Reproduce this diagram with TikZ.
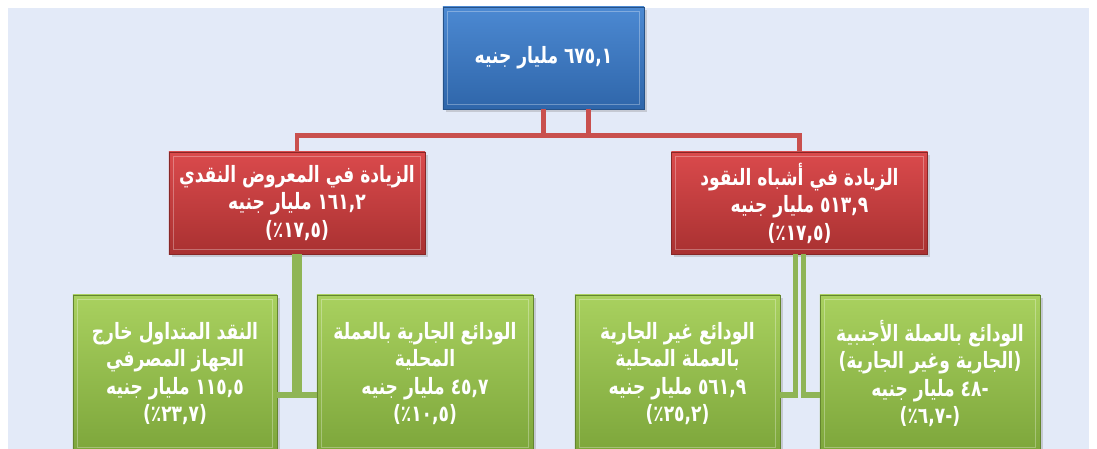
\documentclass[tikz,border=0pt]{standalone}
\usepackage{fontspec}
\newfontfamily\arabicfont[Script=Arabic, FakeStretch=0.76]{DejaVu Sans}
\TeXXeTstate=1
\usetikzlibrary{shadows}
\definecolor{panelbg}{HTML}{E3EAF8}
\definecolor{bluetop}{HTML}{4C89D2}
\definecolor{bluebot}{HTML}{2F66AA}
\definecolor{redtop}{HTML}{DA4A4C}
\definecolor{redbot}{HTML}{A93131}
\definecolor{greentop}{HTML}{A9D15F}
\definecolor{greenbot}{HTML}{7DA63B}
\definecolor{redline}{HTML}{C9504E}
\definecolor{greenline}{HTML}{8FB556}
\newcommand{\ar}[1]{\beginR #1\endR}
\tikzset{
  box/.style={text=white, align=center, inner sep=1pt,
    font=\arabicfont\bfseries\fontsize{16}{19.5}\selectfont,
    drop shadow={shadow xshift=2pt, shadow yshift=-2pt, opacity=0.3},
    path picture={\draw[white, opacity=0.3, line width=0.8pt]
      ([shift={(3pt,-3pt)}]path picture bounding box.north west) rectangle
      ([shift={(-3pt,3pt)}]path picture bounding box.south east);}},
  totalbox/.style={box, draw=bluebot!80!black, top color=bluetop, bottom color=bluebot,
    minimum width=5.03cm, minimum height=2.55cm},
  groupbox/.style={box, draw=redbot!80!black, top color=redtop, bottom color=redbot,
    minimum width=6.4cm, minimum height=2.55cm},
  itembox/.style={box, draw=greenbot!80!black, top color=greentop, bottom color=greenbot,
    minimum height=3.93cm},
  redlink/.style={draw=redline, line width=3.5pt},
  greenlink/.style={draw=greenline, line width=4pt},
}
\begin{document}
\begin{tikzpicture}[x=0.025cm, y=-0.025cm]
\useasboundingbox (0,0) rectangle (1097,448);
\fill[panelbg] (8,8) rectangle (1089,470);

\node[totalbox] (total) at (543.5,58) {\ar{٦٧٥,١ مليار جنيه}};
\node[groupbox] (money) at (297,203)
  {\ar{الزيادة في المعروض النقدي}\\\ar{١٦١,٢ مليار جنيه}\\\ar{(١٧,٥٪)}};
\node[groupbox] (quasi) at (799.5,203)
  {\ar{الزيادة في أشباه النقود}\\\ar{٥١٣,٩ مليار جنيه}\\\ar{(١٧,٥٪)}};

\node[itembox, minimum width=5.1cm] (cash) at (175,373.5)
  {\ar{النقد المتداول خارج}\\\ar{الجهاز المصرفي}\\\ar{١١٥,٥ مليار جنيه}\\\ar{(٢٣,٧٪)}};
\node[itembox, minimum width=5.4cm] (demand) at (425,373.5)
  {\ar{الودائع الجارية بالعملة}\\\ar{المحلية}\\\ar{٤٥,٧ مليار جنيه}\\\ar{(١٠,٥٪)}};
\node[itembox, minimum width=5.13cm] (time) at (677.5,373.5)
  {\ar{الودائع غير الجارية}\\\ar{بالعملة المحلية}\\\ar{٥٦١,٩ مليار جنيه}\\\ar{(٢٥,٢٪)}};
\node[itembox, minimum width=5.5cm] (foreign) at (930,373.5)
  {\ar{الودائع بالعملة الأجنبية}\\\ar{(الجارية وغير الجارية)}\\\ar{-٤٨ مليار جنيه}\\\ar{(-٦,٧٪)}};

\draw[redlink] ([xshift=1.125cm]total.south) -- ++(0,26) -| (money.north);
\draw[redlink] (total.south) -- ++(0,26) -| (quasi.north);

\draw[greenlink] ([xshift=-0.06cm]money.south) |- ([yshift=-0.54cm]cash.east);
\draw[greenlink] ([xshift=0.06cm]money.south) |- ([yshift=-0.54cm]demand.west);
\draw[greenlink] ([xshift=-0.1cm]quasi.south) |- ([yshift=-0.54cm]time.east);
\draw[greenlink] ([xshift=0.1cm]quasi.south) |- ([yshift=-0.54cm]foreign.west);
\end{tikzpicture}
\end{document}
